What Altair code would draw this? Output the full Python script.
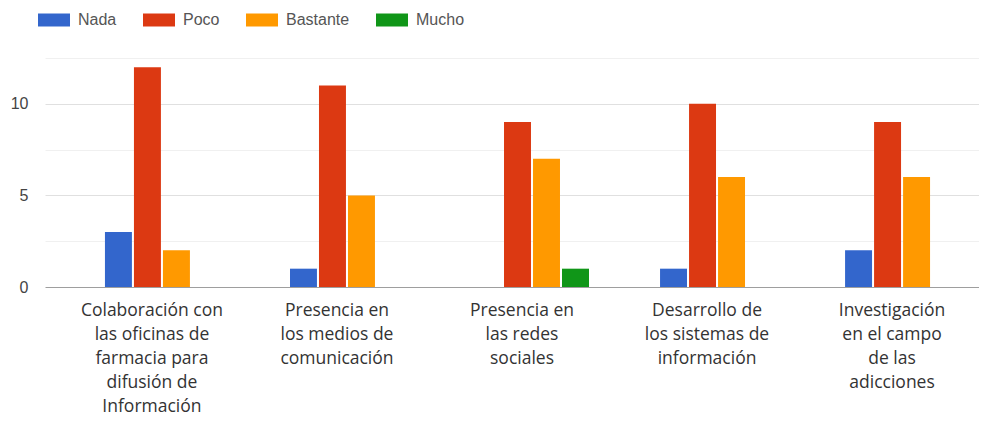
import altair as alt
import pandas as pd

categories = [
    "Colaboración con|las oficinas de|farmacia para|difusión de|Información",
    "Presencia en|los medios de|comunicación",
    "Presencia en|las redes|sociales",
    "Desarrollo de|los sistemas de|información",
    "Investigación|en el campo|de las|adicciones",
]
series = ["Nada", "Poco", "Bastante", "Mucho"]
nada = [3, 1, 0, 1, 2]
poco = [12, 11, 9, 10, 9]
bastante = [2, 5, 7, 6, 6]
mucho = [0, 0, 1, 0, 0]
colors = ["#3366cc", "#dc3912", "#ff9900", "#109618"]
y_ticks = [0, 2.5, 5, 7.5, 10, 12.5]

rows = []
for s, vals in zip(series, [nada, poco, bastante, mucho]):
    for c, v in zip(categories, vals):
        rows.append({"categoria": c, "serie": s, "valor": v})
df = pd.DataFrame(rows)

grid_color = {
    "condition": [
        {"test": "datum.value === 0", "value": "#9e9e9e"},
        {"test": "datum.value % 5 === 0", "value": "#e0e0e0"},
    ],
    "value": "#f0f0f0",
}

chart = alt.Chart(df).mark_bar().encode(
    x=alt.X(
        "categoria:N",
        sort=categories,
        scale=alt.Scale(range=[0, 974], paddingInner=0.384, paddingOuter=0.324),
        axis=alt.Axis(
            title=None, labelAngle=0, labelExpr="split(datum.label, '|')",
            domain=False, ticks=False, grid=False,
            labelFont="Open Sans", labelFontSize=17.5, labelColor="#333333",
            labelLineHeight=24, labelPadding=14, labelLimit=300,
            labelBaseline="top", labelOffset=-10,
        ),
    ),
    xOffset=alt.XOffset("serie:N", sort=series,
                        scale=alt.Scale(paddingInner=0.07, paddingOuter=0)),
    y=alt.Y(
        "valor:Q",
        scale=alt.Scale(domain=[0, 12.5], nice=False),
        axis=alt.Axis(
            title=None, values=y_ticks, domain=False, ticks=False,
            labelExpr="datum.value % 5 === 0 ? datum.label : ''",
            labelFont="Liberation Sans", labelFontSize=16, labelColor="#444444",
            labelPadding=17, gridColor=grid_color, gridWidth=1,
        ),
    ),
    color=alt.Color(
        "serie:N", sort=series,
        scale=alt.Scale(domain=series, range=colors),
        legend=alt.Legend(
            title=None, orient="none", legendX=-1, legendY=-48,
            direction="horizontal", padding=0,
            symbolType="M-1.6,-0.65L1.6,-0.65L1.6,0.65L-1.6,0.65Z",
            symbolSize=400, symbolStrokeWidth=0, symbolOpacity=1,
            labelFont="Liberation Sans", labelFontSize=16, labelColor="#555555",
            labelOffset=14, columnPadding=26,
        ),
    ),
).properties(
    width=934, height=229,
    autosize=alt.AutoSizeParams(type="none"),
    padding={"left": 37, "top": 50, "right": 0, "bottom": 129},
).configure_view(stroke=None)

chart.save("out.html", embed_options={"renderer": "svg", "actions": False})
